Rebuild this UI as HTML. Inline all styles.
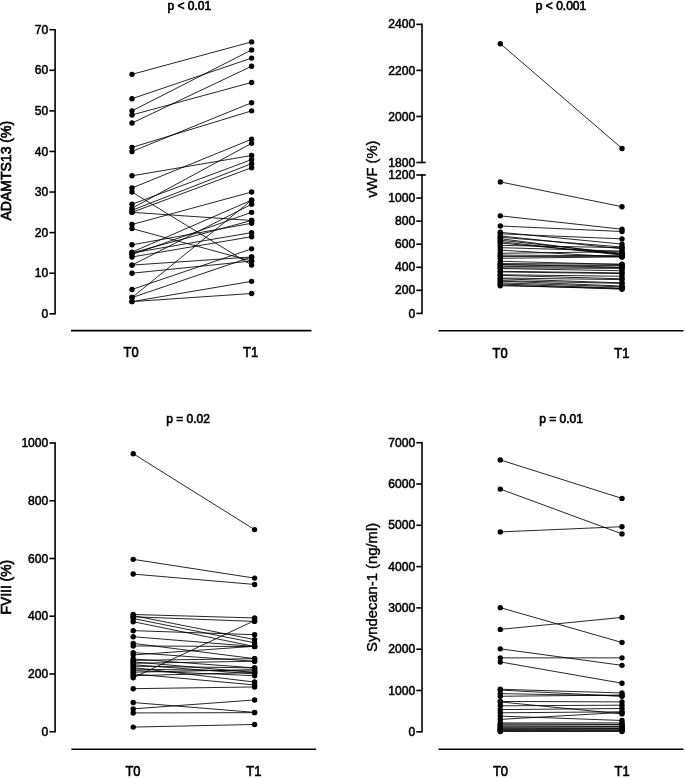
<!DOCTYPE html>
<html lang="en"><head><meta charset="utf-8"><title>Paired plots T0 vs T1</title>
<style>
html,body{margin:0;padding:0;background:#fff;}
body{width:685px;height:778px;overflow:hidden;}
svg{display:block;filter:blur(.35px);font-family:"Liberation Sans",Arial,Helvetica,sans-serif;fill:#000;}
text{stroke:#000;stroke-width:.5px;}
.b{stroke-width:.65px;}
.t{stroke-width:.4px;}
</style></head><body>
<svg width="685" height="778" viewBox="0 0 685 778">
<rect width="685" height="778" fill="#fff"/>
<line x1="55.10" y1="28.90" x2="55.10" y2="314.60" stroke="#000" stroke-width="1.6" stroke-linecap="butt"/>
<line x1="49.40" y1="29.70" x2="55.10" y2="29.70" stroke="#000" stroke-width="1.6" stroke-linecap="butt"/>
<text x="48.30" y="33.80" font-size="12.1" font-weight="normal" text-anchor="end">70</text>
<line x1="49.40" y1="70.29" x2="55.10" y2="70.29" stroke="#000" stroke-width="1.6" stroke-linecap="butt"/>
<text x="48.30" y="74.39" font-size="12.1" font-weight="normal" text-anchor="end">60</text>
<line x1="49.40" y1="110.87" x2="55.10" y2="110.87" stroke="#000" stroke-width="1.6" stroke-linecap="butt"/>
<text x="48.30" y="114.97" font-size="12.1" font-weight="normal" text-anchor="end">50</text>
<line x1="49.40" y1="151.46" x2="55.10" y2="151.46" stroke="#000" stroke-width="1.6" stroke-linecap="butt"/>
<text x="48.30" y="155.56" font-size="12.1" font-weight="normal" text-anchor="end">40</text>
<line x1="49.40" y1="192.04" x2="55.10" y2="192.04" stroke="#000" stroke-width="1.6" stroke-linecap="butt"/>
<text x="48.30" y="196.14" font-size="12.1" font-weight="normal" text-anchor="end">30</text>
<line x1="49.40" y1="232.63" x2="55.10" y2="232.63" stroke="#000" stroke-width="1.6" stroke-linecap="butt"/>
<text x="48.30" y="236.73" font-size="12.1" font-weight="normal" text-anchor="end">20</text>
<line x1="49.40" y1="273.21" x2="55.10" y2="273.21" stroke="#000" stroke-width="1.6" stroke-linecap="butt"/>
<text x="48.30" y="277.31" font-size="12.1" font-weight="normal" text-anchor="end">10</text>
<line x1="49.40" y1="313.80" x2="55.10" y2="313.80" stroke="#000" stroke-width="1.6" stroke-linecap="butt"/>
<text x="48.30" y="317.90" font-size="12.1" font-weight="normal" text-anchor="end">0</text>
<line x1="71.00" y1="330.60" x2="311.50" y2="330.60" stroke="#000" stroke-width="1.6" stroke-linecap="butt"/>
<text transform="translate(131.10 356.60) scale(0.91 1)" font-size="14.2" text-anchor="middle" class="b">T0</text>
<text transform="translate(250.60 356.60) scale(0.91 1)" font-size="14.2" text-anchor="middle" class="b">T1</text>
<text x="189.30" y="9.60" font-size="12" font-weight="normal" text-anchor="middle" class="b">p &lt; 0.01</text>
<text x="11.50" y="170.70" font-size="14.0" font-weight="normal" text-anchor="middle" transform="rotate(-90 11.50 170.70)" class="b">ADAMTS13 (%)</text>
<line x1="132.00" y1="74.34" x2="251.60" y2="41.88" stroke="#000" stroke-width="0.85" stroke-linecap="butt"/>
<line x1="132.00" y1="98.70" x2="251.60" y2="58.11" stroke="#000" stroke-width="0.85" stroke-linecap="butt"/>
<line x1="132.00" y1="110.87" x2="251.60" y2="49.99" stroke="#000" stroke-width="0.85" stroke-linecap="butt"/>
<line x1="132.00" y1="114.93" x2="251.60" y2="82.46" stroke="#000" stroke-width="0.85" stroke-linecap="butt"/>
<line x1="132.00" y1="123.05" x2="251.60" y2="66.23" stroke="#000" stroke-width="0.85" stroke-linecap="butt"/>
<line x1="132.00" y1="147.40" x2="251.60" y2="110.87" stroke="#000" stroke-width="0.85" stroke-linecap="butt"/>
<line x1="132.00" y1="151.46" x2="251.60" y2="102.75" stroke="#000" stroke-width="0.85" stroke-linecap="butt"/>
<line x1="132.00" y1="175.81" x2="251.60" y2="155.52" stroke="#000" stroke-width="0.85" stroke-linecap="butt"/>
<line x1="132.00" y1="187.98" x2="251.60" y2="139.28" stroke="#000" stroke-width="0.85" stroke-linecap="butt"/>
<line x1="132.00" y1="192.04" x2="251.60" y2="265.10" stroke="#000" stroke-width="0.85" stroke-linecap="butt"/>
<line x1="132.00" y1="204.22" x2="251.60" y2="159.57" stroke="#000" stroke-width="0.85" stroke-linecap="butt"/>
<line x1="132.00" y1="208.28" x2="251.60" y2="143.34" stroke="#000" stroke-width="0.85" stroke-linecap="butt"/>
<line x1="132.00" y1="210.31" x2="251.60" y2="163.63" stroke="#000" stroke-width="0.85" stroke-linecap="butt"/>
<line x1="132.00" y1="212.34" x2="251.60" y2="167.69" stroke="#000" stroke-width="0.85" stroke-linecap="butt"/>
<line x1="132.00" y1="212.34" x2="251.60" y2="220.45" stroke="#000" stroke-width="0.85" stroke-linecap="butt"/>
<line x1="132.00" y1="224.51" x2="251.60" y2="192.04" stroke="#000" stroke-width="0.85" stroke-linecap="butt"/>
<line x1="132.00" y1="228.57" x2="251.60" y2="261.04" stroke="#000" stroke-width="0.85" stroke-linecap="butt"/>
<line x1="132.00" y1="244.80" x2="251.60" y2="223.29" stroke="#000" stroke-width="0.85" stroke-linecap="butt"/>
<line x1="132.00" y1="252.11" x2="251.60" y2="200.16" stroke="#000" stroke-width="0.85" stroke-linecap="butt"/>
<line x1="132.00" y1="252.92" x2="251.60" y2="220.45" stroke="#000" stroke-width="0.85" stroke-linecap="butt"/>
<line x1="132.00" y1="252.92" x2="251.60" y2="232.63" stroke="#000" stroke-width="0.85" stroke-linecap="butt"/>
<line x1="132.00" y1="254.54" x2="251.60" y2="212.34" stroke="#000" stroke-width="0.85" stroke-linecap="butt"/>
<line x1="132.00" y1="256.98" x2="251.60" y2="236.69" stroke="#000" stroke-width="0.85" stroke-linecap="butt"/>
<line x1="132.00" y1="265.10" x2="251.60" y2="204.22" stroke="#000" stroke-width="0.85" stroke-linecap="butt"/>
<line x1="132.00" y1="265.10" x2="251.60" y2="256.98" stroke="#000" stroke-width="0.85" stroke-linecap="butt"/>
<line x1="132.00" y1="273.21" x2="251.60" y2="261.04" stroke="#000" stroke-width="0.85" stroke-linecap="butt"/>
<line x1="132.00" y1="289.45" x2="251.60" y2="248.86" stroke="#000" stroke-width="0.85" stroke-linecap="butt"/>
<line x1="132.00" y1="297.57" x2="251.60" y2="200.16" stroke="#000" stroke-width="0.85" stroke-linecap="butt"/>
<line x1="132.00" y1="297.57" x2="251.60" y2="256.98" stroke="#000" stroke-width="0.85" stroke-linecap="butt"/>
<line x1="132.00" y1="301.62" x2="251.60" y2="281.33" stroke="#000" stroke-width="0.85" stroke-linecap="butt"/>
<line x1="132.00" y1="301.62" x2="251.60" y2="293.51" stroke="#000" stroke-width="0.85" stroke-linecap="butt"/>
<circle cx="132.00" cy="74.34" r="2.7"/>
<circle cx="251.60" cy="41.88" r="2.7"/>
<circle cx="132.00" cy="98.70" r="2.7"/>
<circle cx="251.60" cy="58.11" r="2.7"/>
<circle cx="132.00" cy="110.87" r="2.7"/>
<circle cx="251.60" cy="49.99" r="2.7"/>
<circle cx="132.00" cy="114.93" r="2.7"/>
<circle cx="251.60" cy="82.46" r="2.7"/>
<circle cx="132.00" cy="123.05" r="2.7"/>
<circle cx="251.60" cy="66.23" r="2.7"/>
<circle cx="132.00" cy="147.40" r="2.7"/>
<circle cx="251.60" cy="110.87" r="2.7"/>
<circle cx="132.00" cy="151.46" r="2.7"/>
<circle cx="251.60" cy="102.75" r="2.7"/>
<circle cx="132.00" cy="175.81" r="2.7"/>
<circle cx="251.60" cy="155.52" r="2.7"/>
<circle cx="132.00" cy="187.98" r="2.7"/>
<circle cx="251.60" cy="139.28" r="2.7"/>
<circle cx="132.00" cy="192.04" r="2.7"/>
<circle cx="251.60" cy="265.10" r="2.7"/>
<circle cx="132.00" cy="204.22" r="2.7"/>
<circle cx="251.60" cy="159.57" r="2.7"/>
<circle cx="132.00" cy="208.28" r="2.7"/>
<circle cx="251.60" cy="143.34" r="2.7"/>
<circle cx="132.00" cy="210.31" r="2.7"/>
<circle cx="251.60" cy="163.63" r="2.7"/>
<circle cx="132.00" cy="212.34" r="2.7"/>
<circle cx="251.60" cy="167.69" r="2.7"/>
<circle cx="132.00" cy="212.34" r="2.7"/>
<circle cx="251.60" cy="220.45" r="2.7"/>
<circle cx="132.00" cy="224.51" r="2.7"/>
<circle cx="251.60" cy="192.04" r="2.7"/>
<circle cx="132.00" cy="228.57" r="2.7"/>
<circle cx="251.60" cy="261.04" r="2.7"/>
<circle cx="132.00" cy="244.80" r="2.7"/>
<circle cx="251.60" cy="223.29" r="2.7"/>
<circle cx="132.00" cy="252.11" r="2.7"/>
<circle cx="251.60" cy="200.16" r="2.7"/>
<circle cx="132.00" cy="252.92" r="2.7"/>
<circle cx="251.60" cy="220.45" r="2.7"/>
<circle cx="132.00" cy="252.92" r="2.7"/>
<circle cx="251.60" cy="232.63" r="2.7"/>
<circle cx="132.00" cy="254.54" r="2.7"/>
<circle cx="251.60" cy="212.34" r="2.7"/>
<circle cx="132.00" cy="256.98" r="2.7"/>
<circle cx="251.60" cy="236.69" r="2.7"/>
<circle cx="132.00" cy="265.10" r="2.7"/>
<circle cx="251.60" cy="204.22" r="2.7"/>
<circle cx="132.00" cy="265.10" r="2.7"/>
<circle cx="251.60" cy="256.98" r="2.7"/>
<circle cx="132.00" cy="273.21" r="2.7"/>
<circle cx="251.60" cy="261.04" r="2.7"/>
<circle cx="132.00" cy="289.45" r="2.7"/>
<circle cx="251.60" cy="248.86" r="2.7"/>
<circle cx="132.00" cy="297.57" r="2.7"/>
<circle cx="251.60" cy="200.16" r="2.7"/>
<circle cx="132.00" cy="297.57" r="2.7"/>
<circle cx="251.60" cy="256.98" r="2.7"/>
<circle cx="132.00" cy="301.62" r="2.7"/>
<circle cx="251.60" cy="281.33" r="2.7"/>
<circle cx="132.00" cy="301.62" r="2.7"/>
<circle cx="251.60" cy="293.51" r="2.7"/>
<line x1="422.00" y1="23.55" x2="422.00" y2="163.30" stroke="#000" stroke-width="1.6" stroke-linecap="butt"/>
<line x1="416.30" y1="24.35" x2="422.00" y2="24.35" stroke="#000" stroke-width="1.6" stroke-linecap="butt"/>
<text x="415.20" y="28.45" font-size="12.1" font-weight="normal" text-anchor="end">2400</text>
<line x1="416.30" y1="70.40" x2="422.00" y2="70.40" stroke="#000" stroke-width="1.6" stroke-linecap="butt"/>
<text x="415.20" y="74.50" font-size="12.1" font-weight="normal" text-anchor="end">2200</text>
<line x1="416.30" y1="116.45" x2="422.00" y2="116.45" stroke="#000" stroke-width="1.6" stroke-linecap="butt"/>
<text x="415.20" y="120.55" font-size="12.1" font-weight="normal" text-anchor="end">2000</text>
<line x1="416.30" y1="162.50" x2="425.80" y2="162.50" stroke="#000" stroke-width="1.6" stroke-linecap="butt"/>
<text x="415.20" y="166.60" font-size="12.1" font-weight="normal" text-anchor="end">1800</text>
<line x1="422.00" y1="174.20" x2="422.00" y2="314.20" stroke="#000" stroke-width="1.6" stroke-linecap="butt"/>
<line x1="416.30" y1="175.00" x2="425.80" y2="175.00" stroke="#000" stroke-width="1.6" stroke-linecap="butt"/>
<text x="415.20" y="179.10" font-size="12.1" font-weight="normal" text-anchor="end">1200</text>
<line x1="416.30" y1="198.07" x2="422.00" y2="198.07" stroke="#000" stroke-width="1.6" stroke-linecap="butt"/>
<text x="415.20" y="202.17" font-size="12.1" font-weight="normal" text-anchor="end">1000</text>
<line x1="416.30" y1="221.13" x2="422.00" y2="221.13" stroke="#000" stroke-width="1.6" stroke-linecap="butt"/>
<text x="415.20" y="225.23" font-size="12.1" font-weight="normal" text-anchor="end">800</text>
<line x1="416.30" y1="244.20" x2="422.00" y2="244.20" stroke="#000" stroke-width="1.6" stroke-linecap="butt"/>
<text x="415.20" y="248.30" font-size="12.1" font-weight="normal" text-anchor="end">600</text>
<line x1="416.30" y1="267.27" x2="422.00" y2="267.27" stroke="#000" stroke-width="1.6" stroke-linecap="butt"/>
<text x="415.20" y="271.37" font-size="12.1" font-weight="normal" text-anchor="end">400</text>
<line x1="416.30" y1="290.33" x2="422.00" y2="290.33" stroke="#000" stroke-width="1.6" stroke-linecap="butt"/>
<text x="415.20" y="294.43" font-size="12.1" font-weight="normal" text-anchor="end">200</text>
<line x1="416.30" y1="313.40" x2="422.00" y2="313.40" stroke="#000" stroke-width="1.6" stroke-linecap="butt"/>
<text x="415.20" y="317.50" font-size="12.1" font-weight="normal" text-anchor="end">0</text>
<line x1="438.50" y1="330.70" x2="683.50" y2="330.70" stroke="#000" stroke-width="1.6" stroke-linecap="butt"/>
<text transform="translate(500.10 357.50) scale(0.91 1)" font-size="14.2" text-anchor="middle" class="b">T0</text>
<text transform="translate(621.90 357.50) scale(0.91 1)" font-size="14.2" text-anchor="middle" class="b">T1</text>
<text x="561.00" y="9.60" font-size="12" font-weight="normal" text-anchor="middle" class="b">p &lt; 0.001</text>
<text x="376.70" y="169.20" font-size="14.7" font-weight="normal" text-anchor="middle" transform="rotate(-90 376.70 169.20)" class="t">vWF (%)</text>
<line x1="500.30" y1="43.69" x2="622.00" y2="148.45" stroke="#000" stroke-width="0.85" stroke-linecap="butt"/>
<line x1="500.30" y1="181.92" x2="622.00" y2="206.72" stroke="#000" stroke-width="0.85" stroke-linecap="butt"/>
<line x1="500.30" y1="215.83" x2="622.00" y2="229.21" stroke="#000" stroke-width="0.85" stroke-linecap="butt"/>
<line x1="500.30" y1="225.98" x2="622.00" y2="231.51" stroke="#000" stroke-width="0.85" stroke-linecap="butt"/>
<line x1="500.30" y1="232.32" x2="622.00" y2="244.08" stroke="#000" stroke-width="0.85" stroke-linecap="butt"/>
<line x1="500.30" y1="233.82" x2="622.00" y2="238.89" stroke="#000" stroke-width="0.85" stroke-linecap="butt"/>
<line x1="500.30" y1="235.90" x2="622.00" y2="248.81" stroke="#000" stroke-width="0.85" stroke-linecap="butt"/>
<line x1="500.30" y1="237.28" x2="622.00" y2="246.97" stroke="#000" stroke-width="0.85" stroke-linecap="butt"/>
<line x1="500.30" y1="238.66" x2="622.00" y2="254.58" stroke="#000" stroke-width="0.85" stroke-linecap="butt"/>
<line x1="500.30" y1="240.16" x2="622.00" y2="253.43" stroke="#000" stroke-width="0.85" stroke-linecap="butt"/>
<line x1="500.30" y1="241.66" x2="622.00" y2="255.16" stroke="#000" stroke-width="0.85" stroke-linecap="butt"/>
<line x1="500.30" y1="243.05" x2="622.00" y2="254.00" stroke="#000" stroke-width="0.85" stroke-linecap="butt"/>
<line x1="500.30" y1="245.35" x2="622.00" y2="247.66" stroke="#000" stroke-width="0.85" stroke-linecap="butt"/>
<line x1="500.30" y1="247.66" x2="622.00" y2="251.12" stroke="#000" stroke-width="0.85" stroke-linecap="butt"/>
<line x1="500.30" y1="250.20" x2="622.00" y2="257.00" stroke="#000" stroke-width="0.85" stroke-linecap="butt"/>
<line x1="500.30" y1="253.31" x2="622.00" y2="251.70" stroke="#000" stroke-width="0.85" stroke-linecap="butt"/>
<line x1="500.30" y1="255.16" x2="622.00" y2="255.73" stroke="#000" stroke-width="0.85" stroke-linecap="butt"/>
<line x1="500.30" y1="256.54" x2="622.00" y2="256.31" stroke="#000" stroke-width="0.85" stroke-linecap="butt"/>
<line x1="500.30" y1="258.27" x2="622.00" y2="256.89" stroke="#000" stroke-width="0.85" stroke-linecap="butt"/>
<line x1="500.30" y1="261.27" x2="622.00" y2="264.50" stroke="#000" stroke-width="0.85" stroke-linecap="butt"/>
<line x1="500.30" y1="263.58" x2="622.00" y2="264.15" stroke="#000" stroke-width="0.85" stroke-linecap="butt"/>
<line x1="500.30" y1="264.38" x2="622.00" y2="267.27" stroke="#000" stroke-width="0.85" stroke-linecap="butt"/>
<line x1="500.30" y1="264.96" x2="622.00" y2="265.54" stroke="#000" stroke-width="0.85" stroke-linecap="butt"/>
<line x1="500.30" y1="266.34" x2="622.00" y2="267.50" stroke="#000" stroke-width="0.85" stroke-linecap="butt"/>
<line x1="500.30" y1="267.84" x2="622.00" y2="268.42" stroke="#000" stroke-width="0.85" stroke-linecap="butt"/>
<line x1="500.30" y1="268.54" x2="622.00" y2="270.73" stroke="#000" stroke-width="0.85" stroke-linecap="butt"/>
<line x1="500.30" y1="271.30" x2="622.00" y2="272.92" stroke="#000" stroke-width="0.85" stroke-linecap="butt"/>
<line x1="500.30" y1="271.88" x2="622.00" y2="273.61" stroke="#000" stroke-width="0.85" stroke-linecap="butt"/>
<line x1="500.30" y1="274.76" x2="622.00" y2="276.26" stroke="#000" stroke-width="0.85" stroke-linecap="butt"/>
<line x1="500.30" y1="275.34" x2="622.00" y2="278.80" stroke="#000" stroke-width="0.85" stroke-linecap="butt"/>
<line x1="500.30" y1="277.99" x2="622.00" y2="279.61" stroke="#000" stroke-width="0.85" stroke-linecap="butt"/>
<line x1="500.30" y1="278.80" x2="622.00" y2="282.84" stroke="#000" stroke-width="0.85" stroke-linecap="butt"/>
<line x1="500.30" y1="280.65" x2="622.00" y2="283.41" stroke="#000" stroke-width="0.85" stroke-linecap="butt"/>
<line x1="500.30" y1="281.11" x2="622.00" y2="286.07" stroke="#000" stroke-width="0.85" stroke-linecap="butt"/>
<line x1="500.30" y1="282.84" x2="622.00" y2="286.87" stroke="#000" stroke-width="0.85" stroke-linecap="butt"/>
<line x1="500.30" y1="283.99" x2="622.00" y2="288.26" stroke="#000" stroke-width="0.85" stroke-linecap="butt"/>
<line x1="500.30" y1="285.03" x2="622.00" y2="289.18" stroke="#000" stroke-width="0.85" stroke-linecap="butt"/>
<line x1="500.30" y1="285.72" x2="622.00" y2="288.49" stroke="#000" stroke-width="0.85" stroke-linecap="butt"/>
<circle cx="500.30" cy="43.69" r="2.7"/>
<circle cx="622.00" cy="148.45" r="2.7"/>
<circle cx="500.30" cy="181.92" r="2.7"/>
<circle cx="622.00" cy="206.72" r="2.7"/>
<circle cx="500.30" cy="215.83" r="2.7"/>
<circle cx="622.00" cy="229.21" r="2.7"/>
<circle cx="500.30" cy="225.98" r="2.7"/>
<circle cx="622.00" cy="231.51" r="2.7"/>
<circle cx="500.30" cy="232.32" r="2.7"/>
<circle cx="622.00" cy="244.08" r="2.7"/>
<circle cx="500.30" cy="233.82" r="2.7"/>
<circle cx="622.00" cy="238.89" r="2.7"/>
<circle cx="500.30" cy="235.90" r="2.7"/>
<circle cx="622.00" cy="248.81" r="2.7"/>
<circle cx="500.30" cy="237.28" r="2.7"/>
<circle cx="622.00" cy="246.97" r="2.7"/>
<circle cx="500.30" cy="238.66" r="2.7"/>
<circle cx="622.00" cy="254.58" r="2.7"/>
<circle cx="500.30" cy="240.16" r="2.7"/>
<circle cx="622.00" cy="253.43" r="2.7"/>
<circle cx="500.30" cy="241.66" r="2.7"/>
<circle cx="622.00" cy="255.16" r="2.7"/>
<circle cx="500.30" cy="243.05" r="2.7"/>
<circle cx="622.00" cy="254.00" r="2.7"/>
<circle cx="500.30" cy="245.35" r="2.7"/>
<circle cx="622.00" cy="247.66" r="2.7"/>
<circle cx="500.30" cy="247.66" r="2.7"/>
<circle cx="622.00" cy="251.12" r="2.7"/>
<circle cx="500.30" cy="250.20" r="2.7"/>
<circle cx="622.00" cy="257.00" r="2.7"/>
<circle cx="500.30" cy="253.31" r="2.7"/>
<circle cx="622.00" cy="251.70" r="2.7"/>
<circle cx="500.30" cy="255.16" r="2.7"/>
<circle cx="622.00" cy="255.73" r="2.7"/>
<circle cx="500.30" cy="256.54" r="2.7"/>
<circle cx="622.00" cy="256.31" r="2.7"/>
<circle cx="500.30" cy="258.27" r="2.7"/>
<circle cx="622.00" cy="256.89" r="2.7"/>
<circle cx="500.30" cy="261.27" r="2.7"/>
<circle cx="622.00" cy="264.50" r="2.7"/>
<circle cx="500.30" cy="263.58" r="2.7"/>
<circle cx="622.00" cy="264.15" r="2.7"/>
<circle cx="500.30" cy="264.38" r="2.7"/>
<circle cx="622.00" cy="267.27" r="2.7"/>
<circle cx="500.30" cy="264.96" r="2.7"/>
<circle cx="622.00" cy="265.54" r="2.7"/>
<circle cx="500.30" cy="266.34" r="2.7"/>
<circle cx="622.00" cy="267.50" r="2.7"/>
<circle cx="500.30" cy="267.84" r="2.7"/>
<circle cx="622.00" cy="268.42" r="2.7"/>
<circle cx="500.30" cy="268.54" r="2.7"/>
<circle cx="622.00" cy="270.73" r="2.7"/>
<circle cx="500.30" cy="271.30" r="2.7"/>
<circle cx="622.00" cy="272.92" r="2.7"/>
<circle cx="500.30" cy="271.88" r="2.7"/>
<circle cx="622.00" cy="273.61" r="2.7"/>
<circle cx="500.30" cy="274.76" r="2.7"/>
<circle cx="622.00" cy="276.26" r="2.7"/>
<circle cx="500.30" cy="275.34" r="2.7"/>
<circle cx="622.00" cy="278.80" r="2.7"/>
<circle cx="500.30" cy="277.99" r="2.7"/>
<circle cx="622.00" cy="279.61" r="2.7"/>
<circle cx="500.30" cy="278.80" r="2.7"/>
<circle cx="622.00" cy="282.84" r="2.7"/>
<circle cx="500.30" cy="280.65" r="2.7"/>
<circle cx="622.00" cy="283.41" r="2.7"/>
<circle cx="500.30" cy="281.11" r="2.7"/>
<circle cx="622.00" cy="286.07" r="2.7"/>
<circle cx="500.30" cy="282.84" r="2.7"/>
<circle cx="622.00" cy="286.87" r="2.7"/>
<circle cx="500.30" cy="283.99" r="2.7"/>
<circle cx="622.00" cy="288.26" r="2.7"/>
<circle cx="500.30" cy="285.03" r="2.7"/>
<circle cx="622.00" cy="289.18" r="2.7"/>
<circle cx="500.30" cy="285.72" r="2.7"/>
<circle cx="622.00" cy="288.49" r="2.7"/>
<line x1="55.10" y1="442.20" x2="55.10" y2="732.50" stroke="#000" stroke-width="1.6" stroke-linecap="butt"/>
<line x1="49.40" y1="443.00" x2="55.10" y2="443.00" stroke="#000" stroke-width="1.6" stroke-linecap="butt"/>
<text x="48.30" y="447.10" font-size="12.1" font-weight="normal" text-anchor="end">1000</text>
<line x1="49.40" y1="500.74" x2="55.10" y2="500.74" stroke="#000" stroke-width="1.6" stroke-linecap="butt"/>
<text x="48.30" y="504.84" font-size="12.1" font-weight="normal" text-anchor="end">800</text>
<line x1="49.40" y1="558.48" x2="55.10" y2="558.48" stroke="#000" stroke-width="1.6" stroke-linecap="butt"/>
<text x="48.30" y="562.58" font-size="12.1" font-weight="normal" text-anchor="end">600</text>
<line x1="49.40" y1="616.22" x2="55.10" y2="616.22" stroke="#000" stroke-width="1.6" stroke-linecap="butt"/>
<text x="48.30" y="620.32" font-size="12.1" font-weight="normal" text-anchor="end">400</text>
<line x1="49.40" y1="673.96" x2="55.10" y2="673.96" stroke="#000" stroke-width="1.6" stroke-linecap="butt"/>
<text x="48.30" y="678.06" font-size="12.1" font-weight="normal" text-anchor="end">200</text>
<line x1="49.40" y1="731.70" x2="55.10" y2="731.70" stroke="#000" stroke-width="1.6" stroke-linecap="butt"/>
<text x="48.30" y="735.80" font-size="12.1" font-weight="normal" text-anchor="end">0</text>
<line x1="71.40" y1="749.20" x2="316.20" y2="749.20" stroke="#000" stroke-width="1.6" stroke-linecap="butt"/>
<text transform="translate(133.00 776.20) scale(0.91 1)" font-size="14.2" text-anchor="middle" class="b">T0</text>
<text transform="translate(253.90 776.20) scale(0.91 1)" font-size="14.2" text-anchor="middle" class="b">T1</text>
<text x="188.00" y="422.90" font-size="12" font-weight="normal" text-anchor="middle" class="b">p = 0.02</text>
<text x="11.30" y="587.20" font-size="13.8" font-weight="normal" text-anchor="middle" transform="rotate(-90 11.30 587.20)" class="b">FVIII (%)</text>
<line x1="133.20" y1="453.68" x2="254.60" y2="529.61" stroke="#000" stroke-width="0.85" stroke-linecap="butt"/>
<line x1="133.20" y1="559.35" x2="254.60" y2="578.11" stroke="#000" stroke-width="0.85" stroke-linecap="butt"/>
<line x1="133.20" y1="574.07" x2="254.60" y2="584.46" stroke="#000" stroke-width="0.85" stroke-linecap="butt"/>
<line x1="133.20" y1="614.49" x2="254.60" y2="617.95" stroke="#000" stroke-width="0.85" stroke-linecap="butt"/>
<line x1="133.20" y1="615.64" x2="254.60" y2="639.60" stroke="#000" stroke-width="0.85" stroke-linecap="butt"/>
<line x1="133.20" y1="616.80" x2="254.60" y2="621.42" stroke="#000" stroke-width="0.85" stroke-linecap="butt"/>
<line x1="133.20" y1="618.53" x2="254.60" y2="642.78" stroke="#000" stroke-width="0.85" stroke-linecap="butt"/>
<line x1="133.20" y1="621.71" x2="254.60" y2="646.53" stroke="#000" stroke-width="0.85" stroke-linecap="butt"/>
<line x1="133.20" y1="630.65" x2="254.60" y2="634.70" stroke="#000" stroke-width="0.85" stroke-linecap="butt"/>
<line x1="133.20" y1="636.72" x2="254.60" y2="646.53" stroke="#000" stroke-width="0.85" stroke-linecap="butt"/>
<line x1="133.20" y1="643.36" x2="254.60" y2="658.66" stroke="#000" stroke-width="0.85" stroke-linecap="butt"/>
<line x1="133.20" y1="645.96" x2="254.60" y2="646.53" stroke="#000" stroke-width="0.85" stroke-linecap="butt"/>
<line x1="133.20" y1="652.60" x2="254.60" y2="661.26" stroke="#000" stroke-width="0.85" stroke-linecap="butt"/>
<line x1="133.20" y1="654.91" x2="254.60" y2="646.24" stroke="#000" stroke-width="0.85" stroke-linecap="butt"/>
<line x1="133.20" y1="658.95" x2="254.60" y2="667.90" stroke="#000" stroke-width="0.85" stroke-linecap="butt"/>
<line x1="133.20" y1="660.39" x2="254.60" y2="658.66" stroke="#000" stroke-width="0.85" stroke-linecap="butt"/>
<line x1="133.20" y1="661.83" x2="254.60" y2="672.52" stroke="#000" stroke-width="0.85" stroke-linecap="butt"/>
<line x1="133.20" y1="663.28" x2="254.60" y2="661.26" stroke="#000" stroke-width="0.85" stroke-linecap="butt"/>
<line x1="133.20" y1="664.72" x2="254.60" y2="673.96" stroke="#000" stroke-width="0.85" stroke-linecap="butt"/>
<line x1="133.20" y1="666.17" x2="254.60" y2="667.90" stroke="#000" stroke-width="0.85" stroke-linecap="butt"/>
<line x1="133.20" y1="667.61" x2="254.60" y2="682.04" stroke="#000" stroke-width="0.85" stroke-linecap="butt"/>
<line x1="133.20" y1="669.05" x2="254.60" y2="671.07" stroke="#000" stroke-width="0.85" stroke-linecap="butt"/>
<line x1="133.20" y1="670.50" x2="254.60" y2="675.69" stroke="#000" stroke-width="0.85" stroke-linecap="butt"/>
<line x1="133.20" y1="672.23" x2="254.60" y2="669.63" stroke="#000" stroke-width="0.85" stroke-linecap="butt"/>
<line x1="133.20" y1="673.96" x2="254.60" y2="684.93" stroke="#000" stroke-width="0.85" stroke-linecap="butt"/>
<line x1="133.20" y1="675.69" x2="254.60" y2="672.52" stroke="#000" stroke-width="0.85" stroke-linecap="butt"/>
<line x1="133.20" y1="677.71" x2="254.60" y2="620.55" stroke="#000" stroke-width="0.85" stroke-linecap="butt"/>
<line x1="133.20" y1="688.68" x2="254.60" y2="686.95" stroke="#000" stroke-width="0.85" stroke-linecap="butt"/>
<line x1="133.20" y1="702.54" x2="254.60" y2="712.36" stroke="#000" stroke-width="0.85" stroke-linecap="butt"/>
<line x1="133.20" y1="708.89" x2="254.60" y2="699.94" stroke="#000" stroke-width="0.85" stroke-linecap="butt"/>
<line x1="133.20" y1="712.93" x2="254.60" y2="712.65" stroke="#000" stroke-width="0.85" stroke-linecap="butt"/>
<line x1="133.20" y1="727.08" x2="254.60" y2="724.48" stroke="#000" stroke-width="0.85" stroke-linecap="butt"/>
<circle cx="133.20" cy="453.68" r="2.7"/>
<circle cx="254.60" cy="529.61" r="2.7"/>
<circle cx="133.20" cy="559.35" r="2.7"/>
<circle cx="254.60" cy="578.11" r="2.7"/>
<circle cx="133.20" cy="574.07" r="2.7"/>
<circle cx="254.60" cy="584.46" r="2.7"/>
<circle cx="133.20" cy="614.49" r="2.7"/>
<circle cx="254.60" cy="617.95" r="2.7"/>
<circle cx="133.20" cy="615.64" r="2.7"/>
<circle cx="254.60" cy="639.60" r="2.7"/>
<circle cx="133.20" cy="616.80" r="2.7"/>
<circle cx="254.60" cy="621.42" r="2.7"/>
<circle cx="133.20" cy="618.53" r="2.7"/>
<circle cx="254.60" cy="642.78" r="2.7"/>
<circle cx="133.20" cy="621.71" r="2.7"/>
<circle cx="254.60" cy="646.53" r="2.7"/>
<circle cx="133.20" cy="630.65" r="2.7"/>
<circle cx="254.60" cy="634.70" r="2.7"/>
<circle cx="133.20" cy="636.72" r="2.7"/>
<circle cx="254.60" cy="646.53" r="2.7"/>
<circle cx="133.20" cy="643.36" r="2.7"/>
<circle cx="254.60" cy="658.66" r="2.7"/>
<circle cx="133.20" cy="645.96" r="2.7"/>
<circle cx="254.60" cy="646.53" r="2.7"/>
<circle cx="133.20" cy="652.60" r="2.7"/>
<circle cx="254.60" cy="661.26" r="2.7"/>
<circle cx="133.20" cy="654.91" r="2.7"/>
<circle cx="254.60" cy="646.24" r="2.7"/>
<circle cx="133.20" cy="658.95" r="2.7"/>
<circle cx="254.60" cy="667.90" r="2.7"/>
<circle cx="133.20" cy="660.39" r="2.7"/>
<circle cx="254.60" cy="658.66" r="2.7"/>
<circle cx="133.20" cy="661.83" r="2.7"/>
<circle cx="254.60" cy="672.52" r="2.7"/>
<circle cx="133.20" cy="663.28" r="2.7"/>
<circle cx="254.60" cy="661.26" r="2.7"/>
<circle cx="133.20" cy="664.72" r="2.7"/>
<circle cx="254.60" cy="673.96" r="2.7"/>
<circle cx="133.20" cy="666.17" r="2.7"/>
<circle cx="254.60" cy="667.90" r="2.7"/>
<circle cx="133.20" cy="667.61" r="2.7"/>
<circle cx="254.60" cy="682.04" r="2.7"/>
<circle cx="133.20" cy="669.05" r="2.7"/>
<circle cx="254.60" cy="671.07" r="2.7"/>
<circle cx="133.20" cy="670.50" r="2.7"/>
<circle cx="254.60" cy="675.69" r="2.7"/>
<circle cx="133.20" cy="672.23" r="2.7"/>
<circle cx="254.60" cy="669.63" r="2.7"/>
<circle cx="133.20" cy="673.96" r="2.7"/>
<circle cx="254.60" cy="684.93" r="2.7"/>
<circle cx="133.20" cy="675.69" r="2.7"/>
<circle cx="254.60" cy="672.52" r="2.7"/>
<circle cx="133.20" cy="677.71" r="2.7"/>
<circle cx="254.60" cy="620.55" r="2.7"/>
<circle cx="133.20" cy="688.68" r="2.7"/>
<circle cx="254.60" cy="686.95" r="2.7"/>
<circle cx="133.20" cy="702.54" r="2.7"/>
<circle cx="254.60" cy="712.36" r="2.7"/>
<circle cx="133.20" cy="708.89" r="2.7"/>
<circle cx="254.60" cy="699.94" r="2.7"/>
<circle cx="133.20" cy="712.93" r="2.7"/>
<circle cx="254.60" cy="712.65" r="2.7"/>
<circle cx="133.20" cy="727.08" r="2.7"/>
<circle cx="254.60" cy="724.48" r="2.7"/>
<line x1="422.00" y1="441.90" x2="422.00" y2="732.60" stroke="#000" stroke-width="1.6" stroke-linecap="butt"/>
<line x1="416.30" y1="442.70" x2="422.00" y2="442.70" stroke="#000" stroke-width="1.6" stroke-linecap="butt"/>
<text x="415.20" y="446.80" font-size="12.1" font-weight="normal" text-anchor="end">7000</text>
<line x1="416.30" y1="484.00" x2="422.00" y2="484.00" stroke="#000" stroke-width="1.6" stroke-linecap="butt"/>
<text x="415.20" y="488.10" font-size="12.1" font-weight="normal" text-anchor="end">6000</text>
<line x1="416.30" y1="525.30" x2="422.00" y2="525.30" stroke="#000" stroke-width="1.6" stroke-linecap="butt"/>
<text x="415.20" y="529.40" font-size="12.1" font-weight="normal" text-anchor="end">5000</text>
<line x1="416.30" y1="566.60" x2="422.00" y2="566.60" stroke="#000" stroke-width="1.6" stroke-linecap="butt"/>
<text x="415.20" y="570.70" font-size="12.1" font-weight="normal" text-anchor="end">4000</text>
<line x1="416.30" y1="607.90" x2="422.00" y2="607.90" stroke="#000" stroke-width="1.6" stroke-linecap="butt"/>
<text x="415.20" y="612.00" font-size="12.1" font-weight="normal" text-anchor="end">3000</text>
<line x1="416.30" y1="649.20" x2="422.00" y2="649.20" stroke="#000" stroke-width="1.6" stroke-linecap="butt"/>
<text x="415.20" y="653.30" font-size="12.1" font-weight="normal" text-anchor="end">2000</text>
<line x1="416.30" y1="690.50" x2="422.00" y2="690.50" stroke="#000" stroke-width="1.6" stroke-linecap="butt"/>
<text x="415.20" y="694.60" font-size="12.1" font-weight="normal" text-anchor="end">1000</text>
<line x1="416.30" y1="731.80" x2="422.00" y2="731.80" stroke="#000" stroke-width="1.6" stroke-linecap="butt"/>
<text x="415.20" y="735.90" font-size="12.1" font-weight="normal" text-anchor="end">0</text>
<line x1="438.50" y1="749.20" x2="683.50" y2="749.20" stroke="#000" stroke-width="1.6" stroke-linecap="butt"/>
<text transform="translate(500.45 776.40) scale(0.91 1)" font-size="14.2" text-anchor="middle" class="b">T0</text>
<text transform="translate(622.10 776.40) scale(0.91 1)" font-size="14.2" text-anchor="middle" class="b">T1</text>
<text x="561.00" y="422.90" font-size="12" font-weight="normal" text-anchor="middle" class="b">p = 0.01</text>
<text x="376.90" y="587.40" font-size="14.8" font-weight="normal" text-anchor="middle" transform="rotate(-90 376.90 587.40)" class="t">Syndecan-1 (ng/ml)</text>
<line x1="500.30" y1="459.92" x2="622.00" y2="498.41" stroke="#000" stroke-width="0.85" stroke-linecap="butt"/>
<line x1="500.30" y1="489.08" x2="622.00" y2="533.89" stroke="#000" stroke-width="0.85" stroke-linecap="butt"/>
<line x1="500.30" y1="531.91" x2="622.00" y2="526.70" stroke="#000" stroke-width="0.85" stroke-linecap="butt"/>
<line x1="500.30" y1="607.65" x2="622.00" y2="642.51" stroke="#000" stroke-width="0.85" stroke-linecap="butt"/>
<line x1="500.30" y1="629.38" x2="622.00" y2="617.40" stroke="#000" stroke-width="0.85" stroke-linecap="butt"/>
<line x1="500.30" y1="648.83" x2="622.00" y2="665.35" stroke="#000" stroke-width="0.85" stroke-linecap="butt"/>
<line x1="500.30" y1="657.87" x2="622.00" y2="657.87" stroke="#000" stroke-width="0.85" stroke-linecap="butt"/>
<line x1="500.30" y1="661.96" x2="622.00" y2="683.23" stroke="#000" stroke-width="0.85" stroke-linecap="butt"/>
<line x1="500.30" y1="689.26" x2="622.00" y2="692.98" stroke="#000" stroke-width="0.85" stroke-linecap="butt"/>
<line x1="500.30" y1="690.09" x2="622.00" y2="696.28" stroke="#000" stroke-width="0.85" stroke-linecap="butt"/>
<line x1="500.30" y1="693.60" x2="622.00" y2="695.87" stroke="#000" stroke-width="0.85" stroke-linecap="butt"/>
<line x1="500.30" y1="696.28" x2="622.00" y2="695.04" stroke="#000" stroke-width="0.85" stroke-linecap="butt"/>
<line x1="500.30" y1="701.90" x2="622.00" y2="713.92" stroke="#000" stroke-width="0.85" stroke-linecap="butt"/>
<line x1="500.30" y1="701.44" x2="622.00" y2="701.90" stroke="#000" stroke-width="0.85" stroke-linecap="butt"/>
<line x1="500.30" y1="705.82" x2="622.00" y2="705.20" stroke="#000" stroke-width="0.85" stroke-linecap="butt"/>
<line x1="500.30" y1="709.58" x2="622.00" y2="708.51" stroke="#000" stroke-width="0.85" stroke-linecap="butt"/>
<line x1="500.30" y1="712.80" x2="622.00" y2="711.81" stroke="#000" stroke-width="0.85" stroke-linecap="butt"/>
<line x1="500.30" y1="716.11" x2="622.00" y2="720.48" stroke="#000" stroke-width="0.85" stroke-linecap="butt"/>
<line x1="500.30" y1="719.41" x2="622.00" y2="712.39" stroke="#000" stroke-width="0.85" stroke-linecap="butt"/>
<line x1="500.30" y1="722.92" x2="622.00" y2="722.92" stroke="#000" stroke-width="0.85" stroke-linecap="butt"/>
<line x1="500.30" y1="723.95" x2="622.00" y2="724.37" stroke="#000" stroke-width="0.85" stroke-linecap="butt"/>
<line x1="500.30" y1="724.99" x2="622.00" y2="724.78" stroke="#000" stroke-width="0.85" stroke-linecap="butt"/>
<line x1="500.30" y1="726.02" x2="622.00" y2="726.43" stroke="#000" stroke-width="0.85" stroke-linecap="butt"/>
<line x1="500.30" y1="727.05" x2="622.00" y2="726.84" stroke="#000" stroke-width="0.85" stroke-linecap="butt"/>
<line x1="500.30" y1="727.88" x2="622.00" y2="728.08" stroke="#000" stroke-width="0.85" stroke-linecap="butt"/>
<line x1="500.30" y1="728.70" x2="622.00" y2="728.50" stroke="#000" stroke-width="0.85" stroke-linecap="butt"/>
<line x1="500.30" y1="729.53" x2="622.00" y2="729.73" stroke="#000" stroke-width="0.85" stroke-linecap="butt"/>
<line x1="500.30" y1="730.35" x2="622.00" y2="730.15" stroke="#000" stroke-width="0.85" stroke-linecap="butt"/>
<line x1="500.30" y1="730.97" x2="622.00" y2="730.77" stroke="#000" stroke-width="0.85" stroke-linecap="butt"/>
<line x1="500.30" y1="731.47" x2="622.00" y2="731.47" stroke="#000" stroke-width="0.85" stroke-linecap="butt"/>
<circle cx="500.30" cy="459.92" r="2.7"/>
<circle cx="622.00" cy="498.41" r="2.7"/>
<circle cx="500.30" cy="489.08" r="2.7"/>
<circle cx="622.00" cy="533.89" r="2.7"/>
<circle cx="500.30" cy="531.91" r="2.7"/>
<circle cx="622.00" cy="526.70" r="2.7"/>
<circle cx="500.30" cy="607.65" r="2.7"/>
<circle cx="622.00" cy="642.51" r="2.7"/>
<circle cx="500.30" cy="629.38" r="2.7"/>
<circle cx="622.00" cy="617.40" r="2.7"/>
<circle cx="500.30" cy="648.83" r="2.7"/>
<circle cx="622.00" cy="665.35" r="2.7"/>
<circle cx="500.30" cy="657.87" r="2.7"/>
<circle cx="622.00" cy="657.87" r="2.7"/>
<circle cx="500.30" cy="661.96" r="2.7"/>
<circle cx="622.00" cy="683.23" r="2.7"/>
<circle cx="500.30" cy="689.26" r="2.7"/>
<circle cx="622.00" cy="692.98" r="2.7"/>
<circle cx="500.30" cy="690.09" r="2.7"/>
<circle cx="622.00" cy="696.28" r="2.7"/>
<circle cx="500.30" cy="693.60" r="2.7"/>
<circle cx="622.00" cy="695.87" r="2.7"/>
<circle cx="500.30" cy="696.28" r="2.7"/>
<circle cx="622.00" cy="695.04" r="2.7"/>
<circle cx="500.30" cy="701.90" r="2.7"/>
<circle cx="622.00" cy="713.92" r="2.7"/>
<circle cx="500.30" cy="701.44" r="2.7"/>
<circle cx="622.00" cy="701.90" r="2.7"/>
<circle cx="500.30" cy="705.82" r="2.7"/>
<circle cx="622.00" cy="705.20" r="2.7"/>
<circle cx="500.30" cy="709.58" r="2.7"/>
<circle cx="622.00" cy="708.51" r="2.7"/>
<circle cx="500.30" cy="712.80" r="2.7"/>
<circle cx="622.00" cy="711.81" r="2.7"/>
<circle cx="500.30" cy="716.11" r="2.7"/>
<circle cx="622.00" cy="720.48" r="2.7"/>
<circle cx="500.30" cy="719.41" r="2.7"/>
<circle cx="622.00" cy="712.39" r="2.7"/>
<circle cx="500.30" cy="722.92" r="2.7"/>
<circle cx="622.00" cy="722.92" r="2.7"/>
<circle cx="500.30" cy="723.95" r="2.7"/>
<circle cx="622.00" cy="724.37" r="2.7"/>
<circle cx="500.30" cy="724.99" r="2.7"/>
<circle cx="622.00" cy="724.78" r="2.7"/>
<circle cx="500.30" cy="726.02" r="2.7"/>
<circle cx="622.00" cy="726.43" r="2.7"/>
<circle cx="500.30" cy="727.05" r="2.7"/>
<circle cx="622.00" cy="726.84" r="2.7"/>
<circle cx="500.30" cy="727.88" r="2.7"/>
<circle cx="622.00" cy="728.08" r="2.7"/>
<circle cx="500.30" cy="728.70" r="2.7"/>
<circle cx="622.00" cy="728.50" r="2.7"/>
<circle cx="500.30" cy="729.53" r="2.7"/>
<circle cx="622.00" cy="729.73" r="2.7"/>
<circle cx="500.30" cy="730.35" r="2.7"/>
<circle cx="622.00" cy="730.15" r="2.7"/>
<circle cx="500.30" cy="730.97" r="2.7"/>
<circle cx="622.00" cy="730.77" r="2.7"/>
<circle cx="500.30" cy="731.47" r="2.7"/>
<circle cx="622.00" cy="731.47" r="2.7"/>
</svg>
</body></html>
